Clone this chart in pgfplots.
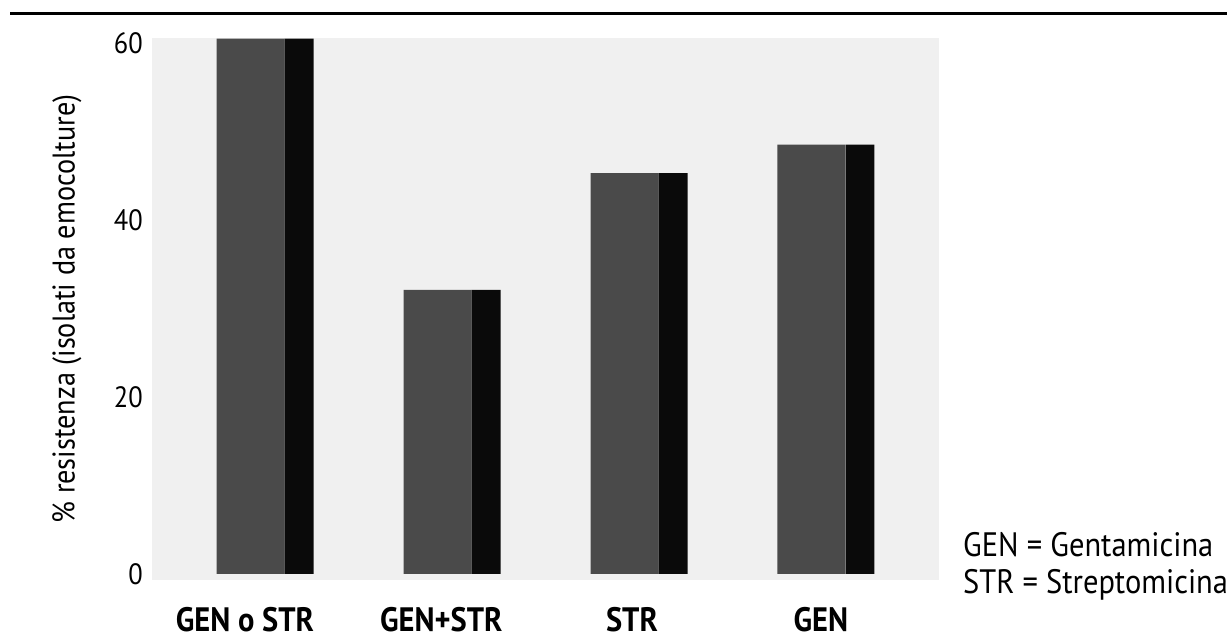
\documentclass[border=0pt]{standalone}
\usepackage{fontspec}
\setmainfont{PT Sans}
\newfontfamily\cond[FakeStretch=0.9]{PT Sans}
\usepackage{pgfplots}
\pgfplotsset{compat=1.18}
\definecolor{wall}{HTML}{F0F0F0}
\definecolor{front}{HTML}{4A4A4A}
\definecolor{side}{HTML}{0A0A0A}
\begin{document}
\begin{tikzpicture}
\path (0,0) rectangle (1227bp,641bp);
\draw[line width=3bp] (10bp,627bp) -- (1227bp,627bp);
\begin{axis}[
  at={(152bp,61bp)}, anchor=south west,
  scale only axis, width=787bp, height=542bp,
  xmin=-0.527, xmax=3.682, ymin=-0.68, ymax=60.56,
  axis line style={draw=none}, tick style={draw=none},
  axis background/.style={fill=wall},
  ytick={0,20,40,60},
  yticklabel style={anchor=east, inner sep=0pt, xshift=-9bp, font=\cond\fontsize{29.5}{34}\selectfont},
  /pgf/number format/assume math mode=true,
  xtick={-0.03,1.02,2.04,3.05},
  xticklabels={GEN o STR, GEN+STR, STR, GEN},
  xticklabel style={anchor=north, inner sep=0pt, yshift=-27bp, font=\cond\fontsize{34}{38}\selectfont\bfseries},
  ylabel={\% resistenza (isolati da emocolture)},
  ylabel style={at={(axis description cs:-0.108,0.5)}, anchor=center, font=\cond\fontsize{31.5}{36}\selectfont},
  clip=false,
]
\addplot[ybar, bar width=0.3636, bar shift=0, fill=front, draw=none]
  coordinates {(0,60.5) (1,32.1) (2,45.3) (3,48.5)};
\addplot[ybar, bar width=0.155, bar shift=0.2594, fill=side, draw=none]
  coordinates {(0,60.5) (1,32.1) (2,45.3) (3,48.5)};
\end{axis}
\node[anchor=base west, inner sep=0pt, font=\cond\fontsize{34}{38}\selectfont] at (963bp,84bp) {GEN = Gentamicina};
\node[anchor=base west, inner sep=0pt, font=\cond\fontsize{34}{38}\selectfont] at (963bp,47bp) {STR = Streptomicina};
\pgfresetboundingbox
\path (0,0) rectangle (1227bp,641bp);
\end{tikzpicture}
\end{document}
